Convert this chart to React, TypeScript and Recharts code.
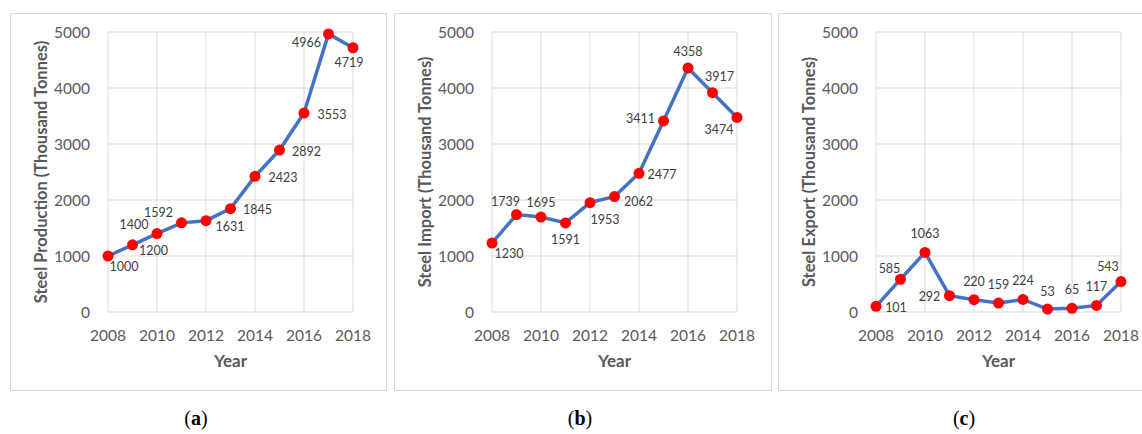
import { CartesianGrid, LabelList, Line, LineChart, XAxis, YAxis } from 'recharts';

const years = [2008, 2009, 2010, 2011, 2012, 2013, 2014, 2015, 2016, 2017, 2018];
const production = [1000, 1200, 1400, 1592, 1631, 1845, 2423, 2892, 3553, 4966, 4719];
const imports = [1230, 1739, 1695, 1591, 1953, 2062, 2477, 3411, 4358, 3917, 3474];
const exports = [101, 585, 1063, 292, 220, 159, 224, 53, 65, 117, 543];
const yTicks = [0, 1000, 2000, 3000, 4000, 5000];
const xTicks = [2008, 2010, 2012, 2014, 2016, 2018];

// where each value label sits, relative to its point (label centre)
const productionLabelOffsets = [[16, 10], [21, 6], [-23, -9], [-23, -10], [24, 6], [27, 1], [28, 1], [27, 1], [28, 1], [-22, 9], [-4, 15]];
const importLabelOffsets = [[17, 10], [-11, -13], [0, -15], [0, 17], [15, 17], [24, 5], [23, 1], [-23, -2], [0, -16], [7, -16], [-18, 12]];
const exportLabelOffsets = [[20, 1], [-11, -11], [0, -19], [-20, 1], [0, -18], [0, -19], [0, -19], [0, -18], [0, -19], [0, -19], [-13, -15]];

const FONT = 'Lato, "Open Sans", sans-serif';
const GREY = '#595959';

function toRows(values: number[]) {
  return years.map((year, i) => ({ year, value: values[i] }));
}

interface PanelProps {
  left: number;
  width: number;
  title: string;
  values: number[];
  offsets: number[][];
  caption: string;
}

function Panel({ left, width, title, values, offsets, caption }: PanelProps) {
  const height = 378;
  const renderLabel = (props: any) => {
    const { x, y, index, value } = props;
    const [dx, dy] = offsets[index] ?? [0, -15];
    return (
      <text
        x={x + dx}
        y={y + dy}
        textAnchor="middle"
        dominantBaseline="central"
        fill="#404040"
        fontSize={12.5}
        fontFamily={FONT}
      >
        {value}
      </text>
    );
  };

  return (
    <>
      <div
        style={{
          position: 'absolute',
          left,
          top: 13,
          width,
          height,
          boxSizing: 'border-box',
          border: '1px solid #d9d9d9',
        }}
      />
      <div style={{ position: 'absolute', left, top: 13, width, height }}>
        <LineChart
          width={width}
          height={height}
          data={toRows(values)}
          margin={{ top: 19, right: width - 343, bottom: 17, left: 0 }}
        >
          <CartesianGrid stroke="#d9d9d9" strokeWidth={1} />
          <XAxis
            dataKey="year"
            type="number"
            domain={[2008, 2018]}
            ticks={xTicks}
            axisLine={false}
            tickLine={false}
            tickSize={0}
            tickMargin={18}
            height={62}
            tick={{ fill: GREY, fontSize: 15.5, fontFamily: FONT }}
            label={{
              value: 'Year',
              position: 'insideBottom',
              offset: 7,
              fill: GREY,
              fontSize: 17,
              fontWeight: 700,
              fontFamily: FONT,
            }}
          />
          <YAxis
            type="number"
            domain={[0, 5000]}
            ticks={yTicks}
            axisLine={false}
            tickLine={false}
            tickSize={0}
            tickMargin={18}
            width={98}
            tick={{ fill: GREY, fontSize: 15.5, fontFamily: FONT }}
            label={{
              value: title,
              angle: -90,
              position: 'insideLeft',
              offset: 31,
              fill: GREY,
              fontSize: 16.5,
              fontWeight: 700,
              fontFamily: FONT,
              style: { textAnchor: 'middle' },
            }}
          />
          <Line
            dataKey="value"
            stroke="#4472C4"
            strokeWidth={3.5}
            dot={{ r: 5.5, fill: '#FF0000', stroke: 'none' }}
            activeDot={false}
            isAnimationActive={false}
          >
            <LabelList dataKey="value" content={renderLabel} />
          </Line>
        </LineChart>
      </div>
      <div
        style={{
          position: 'absolute',
          left: left + 186 - 40,
          width: 80,
          top: 407,
          textAlign: 'center',
          fontFamily: '"Liberation Serif", serif',
          fontSize: 20,
          color: '#000',
        }}
      >
        (<b>{caption}</b>)
      </div>
    </>
  );
}

export default function App() {
  return (
    <div
      style={{
        position: 'absolute',
        left: 0,
        top: 0,
        width: 1142,
        height: 434,
        overflow: 'hidden',
        background: '#fff',
      }}
    >
      <Panel left={10} width={377} title="Steel Production (Thousand Tonnes)" values={production} offsets={productionLabelOffsets} caption="a" />
      <Panel left={394} width={378} title="Steel Import (Thousand Tonnes)" values={imports} offsets={importLabelOffsets} caption="b" />
      <Panel left={778} width={378} title="Steel Export (Thousand Tonnes)" values={exports} offsets={exportLabelOffsets} caption="c" />
    </div>
  );
}
